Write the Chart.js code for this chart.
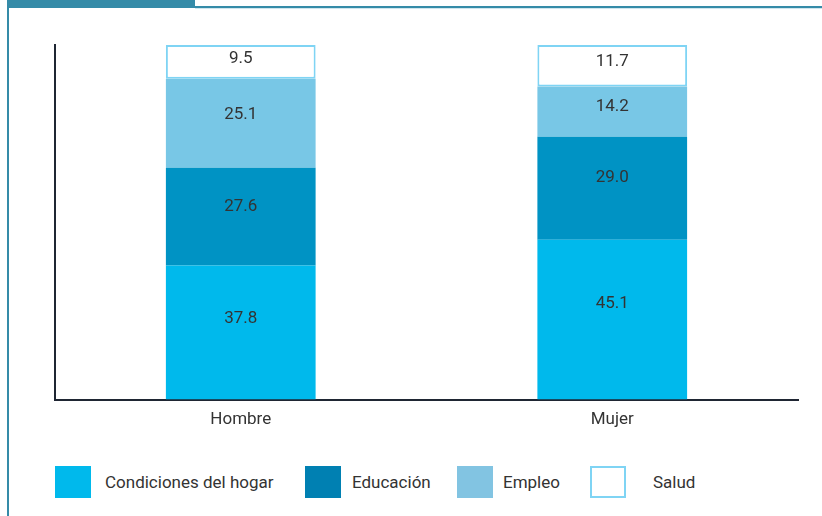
<!DOCTYPE html>
<html><head><meta charset="utf-8">
<script src="https://cdn.jsdelivr.net/npm/chart.js@4"></script>
<style>
html,body{margin:0;padding:0;background:#fff;width:822px;height:516px;overflow:hidden;font-family:Roboto,"DejaVu Sans",sans-serif;}
#tab{position:absolute;left:7px;top:0;width:188px;height:8px;background:#358ba8;}
#topline{position:absolute;left:195px;top:6px;width:627px;height:2px;background:#358ba8;}
#topline2{position:absolute;left:195px;top:8px;width:627px;height:1px;background:#cfe6ee;}
#leftline{position:absolute;left:7px;top:0;width:2px;height:516px;background:#358ba8;}
#wrap{position:absolute;left:0;top:0;width:822px;height:452px;}
.box{position:absolute;top:466px;width:36px;height:32px;box-sizing:border-box;}
.ltxt{position:absolute;top:472px;font-size:17px;color:#333;white-space:nowrap;}
</style></head><body>
<div id="tab"></div><div id="topline"></div><div id="topline2"></div><div id="leftline"></div>
<div id="wrap"><canvas id="c"></canvas></div>
<div id="legend"></div>
<script>
const categories = ["Hombre", "Mujer"];
const seriesNames = ["Condiciones del hogar", "Educación", "Empleo", "Salud"];
const condicionesHogar = [37.8, 45.1];
const educacion = [27.6, 29.0];
const empleo = [25.1, 14.2];
const salud = [9.5, 11.7];

const fills = ["#00b9ec", "#0093c4", "#78c7e6", "#ffffff"];
const legendFills = ["#00b9ec", "#0080b2", "#82c4e2", "#ffffff"];
const legendX = [[55,105],[305,352],[457,503],[590,653]];
const FONT = "Roboto, 'DejaVu Sans', sans-serif";

const series = [condicionesHogar, educacion, empleo, salud];
const datasets = series.map((d, i) => ({
  label: seriesNames[i],
  data: d,
  backgroundColor: fills[i],
  borderColor: i === 3 ? "#7fd4f4" : fills[i],
  borderWidth: i === 3 ? 2 : 0,
  borderSkipped: false,
  barPercentage: 0.403,
  categoryPercentage: 1.0
}));

const labelPlugin = {
  id: "segLabels",
  afterDatasetsDraw(chart) {
    const ctx = chart.ctx;
    ctx.save();
    ctx.font = "17px " + FONT;
    ctx.fillStyle = "#333";
    ctx.textAlign = "center";
    ctx.textBaseline = "middle";
    chart.data.datasets.forEach((ds, di) => {
      const meta = chart.getDatasetMeta(di);
      meta.data.forEach((el, i) => {
        const p = el.getProps(["x", "y", "base"], true);
        const h = p.base - p.y;
        const cy = (p.y + p.base) / 2 - h * 0.1;
        ctx.fillText(ds.data[i].toFixed(1), p.x, cy);
      });
    });
    ctx.restore();
  }
};

new Chart(document.getElementById("c"), {
  type: "bar",
  data: { labels: categories, datasets },
  options: {
    responsive: true,
    maintainAspectRatio: false,
    animation: false,
    layout: { padding: { left: 55, right: 24, top: 45, bottom: 12 } },
    plugins: { legend: { display: false }, tooltip: { enabled: false } },
    scales: {
      x: {
        stacked: true,
        grid: { display: false, drawTicks: false },
        border: { display: true, color: "#1f2633", width: 2 },
        ticks: { color: "#333", font: { size: 17, family: FONT }, padding: 10 }
      },
      y: {
        stacked: true, min: 0, max: 100,
        grid: { display: false, drawTicks: false },
        border: { display: true, color: "#1f2633", width: 2 },
        ticks: { display: false }
      }
    }
  },
  plugins: [labelPlugin]
});

const lg = document.getElementById("legend");
seriesNames.forEach((n, i) => {
  const b = document.createElement("div");
  b.className = "box";
  b.style.left = legendX[i][0] + "px";
  b.style.background = legendFills[i];
  if (i === 3) b.style.border = "2px solid #7fd4f4";
  lg.appendChild(b);
  const t = document.createElement("div");
  t.className = "ltxt";
  t.style.left = legendX[i][1] + "px";
  t.textContent = n;
  lg.appendChild(t);
});
</script>
</body></html>
